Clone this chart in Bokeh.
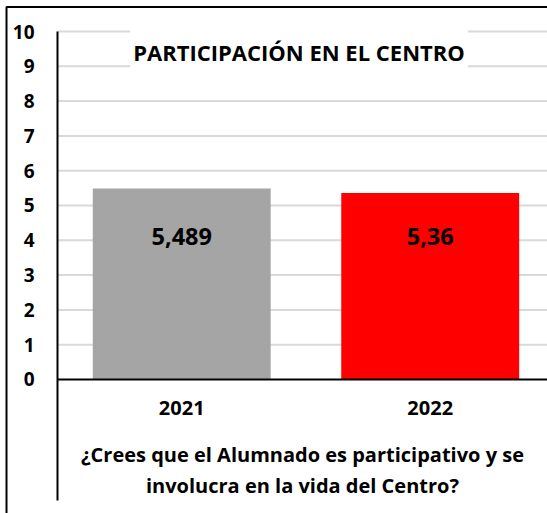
from bokeh.plotting import figure
from bokeh.models import Range1d, FixedTicker, Label, ColumnDataSource
from bokeh.embed import file_html
from bokeh.resources import INLINE
from bokeh.core.properties import value

categories = ["2021", "2022"]
scores = [5.489, 5.36]
bar_colors = ["#a5a5a5", "#ff0000"]
y_ticks = [0, 1, 2, 3, 4, 5, 6, 7, 8, 9, 10]
title_text = "PARTICIPACIÓN EN EL CENTRO"
axis_title = "¿Crees que el Alumnado es participativo y se\ninvolucra en la vida del Centro?"

FONT = "Open Sans"

positions = [i + 0.5 for i in range(len(categories))]
labels = [str(v).replace(".", ",") for v in scores]

# frame covers the whole canvas; axes are placed at fixed data locations
X_MIN, X_MAX = -0.2294, 1.972
Y_MIN, Y_MAX = -3.851, 10.891
AXIS_BOTTOM = -3.477
BORDER_LEFT, BORDER_TOP = -0.2052, 10.704

src = ColumnDataSource(dict(x=positions, top=scores, color=bar_colors, label=labels,
                            ly=[4.1] * len(scores)))
grid_src = ColumnDataSource(dict(y=y_ticks[1:], x0=[0] * (len(y_ticks) - 1),
                                 x1=[X_MAX + 1] * (len(y_ticks) - 1)))

p = figure(width=547, height=513, output_backend="svg", toolbar_location=None,
           x_range=Range1d(X_MIN, X_MAX), y_range=Range1d(Y_MIN, Y_MAX),
           min_border=0, min_border_left=0, min_border_top=0, min_border_right=0, min_border_bottom=0)
p.outline_line_color = None
p.background_fill_color = "white"
p.border_fill_color = "white"
p.xgrid.visible = False
p.ygrid.visible = False

# chart-area border (only the left and top edges fall inside the picture)
p.line(x=[BORDER_LEFT, BORDER_LEFT, X_MAX + 2], y=[Y_MIN - 5, BORDER_TOP, BORDER_TOP],
       line_color="black", line_width=2)

# gridlines (start at the value axis)
p.segment(x0="x0", x1="x1", y0="y", y1="y", source=grid_src, line_color="#d9d9d9", line_width=2)

p.vbar(x="x", top="top", width=0.716, bottom=0, color="color", line_color=None, source=src)
p.text(x="x", y="ly", text="label", source=src, text_align="center", text_baseline="middle",
       text_font=value(FONT), text_font_style="bold", text_font_size="23.5px", text_color="black")

# y axis
yax = p.yaxis[0]
yax.fixed_location = 0
yax.bounds = (AXIS_BOTTOM, 10)
yax.ticker = FixedTicker(ticks=y_ticks)
yax.major_tick_out = 0
yax.major_tick_in = 0
yax.minor_tick_out = 0
yax.minor_tick_in = 0
yax.axis_line_color = "black"
yax.axis_line_width = 2
yax.major_label_standoff = 23
yax.major_label_text_font = FONT
yax.major_label_text_font_style = "bold"
yax.major_label_text_font_size = "19px"
yax.major_label_text_color = "black"

# x axis
xax = p.xaxis[0]
xax.fixed_location = 0
xax.bounds = (0, X_MAX + 1)
xax.ticker = FixedTicker(ticks=positions)
xax.major_label_overrides = {pos: c for pos, c in zip(positions, categories)}
xax.major_tick_out = 0
xax.major_tick_in = 0
xax.minor_tick_out = 0
xax.minor_tick_in = 0
xax.axis_line_color = "black"
xax.axis_line_width = 2
xax.major_label_standoff = 22
xax.major_label_text_font = FONT
xax.major_label_text_font_style = "bold"
xax.major_label_text_font_size = "20px"
xax.major_label_text_color = "black"
xax.axis_label = axis_title
xax.axis_label_standoff = 22
xax.axis_label_text_font = FONT
xax.axis_label_text_font_style = "bold"
xax.axis_label_text_font_size = "20px"
xax.axis_label_text_color = "black"
xax.axis_label_text_line_height = 1.15

title = Label(x=0.972, y=9.40, text=title_text, text_align="center", text_baseline="middle",
              text_font=FONT, text_font_style="bold", text_font_size="22px", text_color="black",
              background_fill_color="white", padding=(3, 10))
p.add_layout(title)

open("out.html", "w").write(file_html(p, INLINE))
